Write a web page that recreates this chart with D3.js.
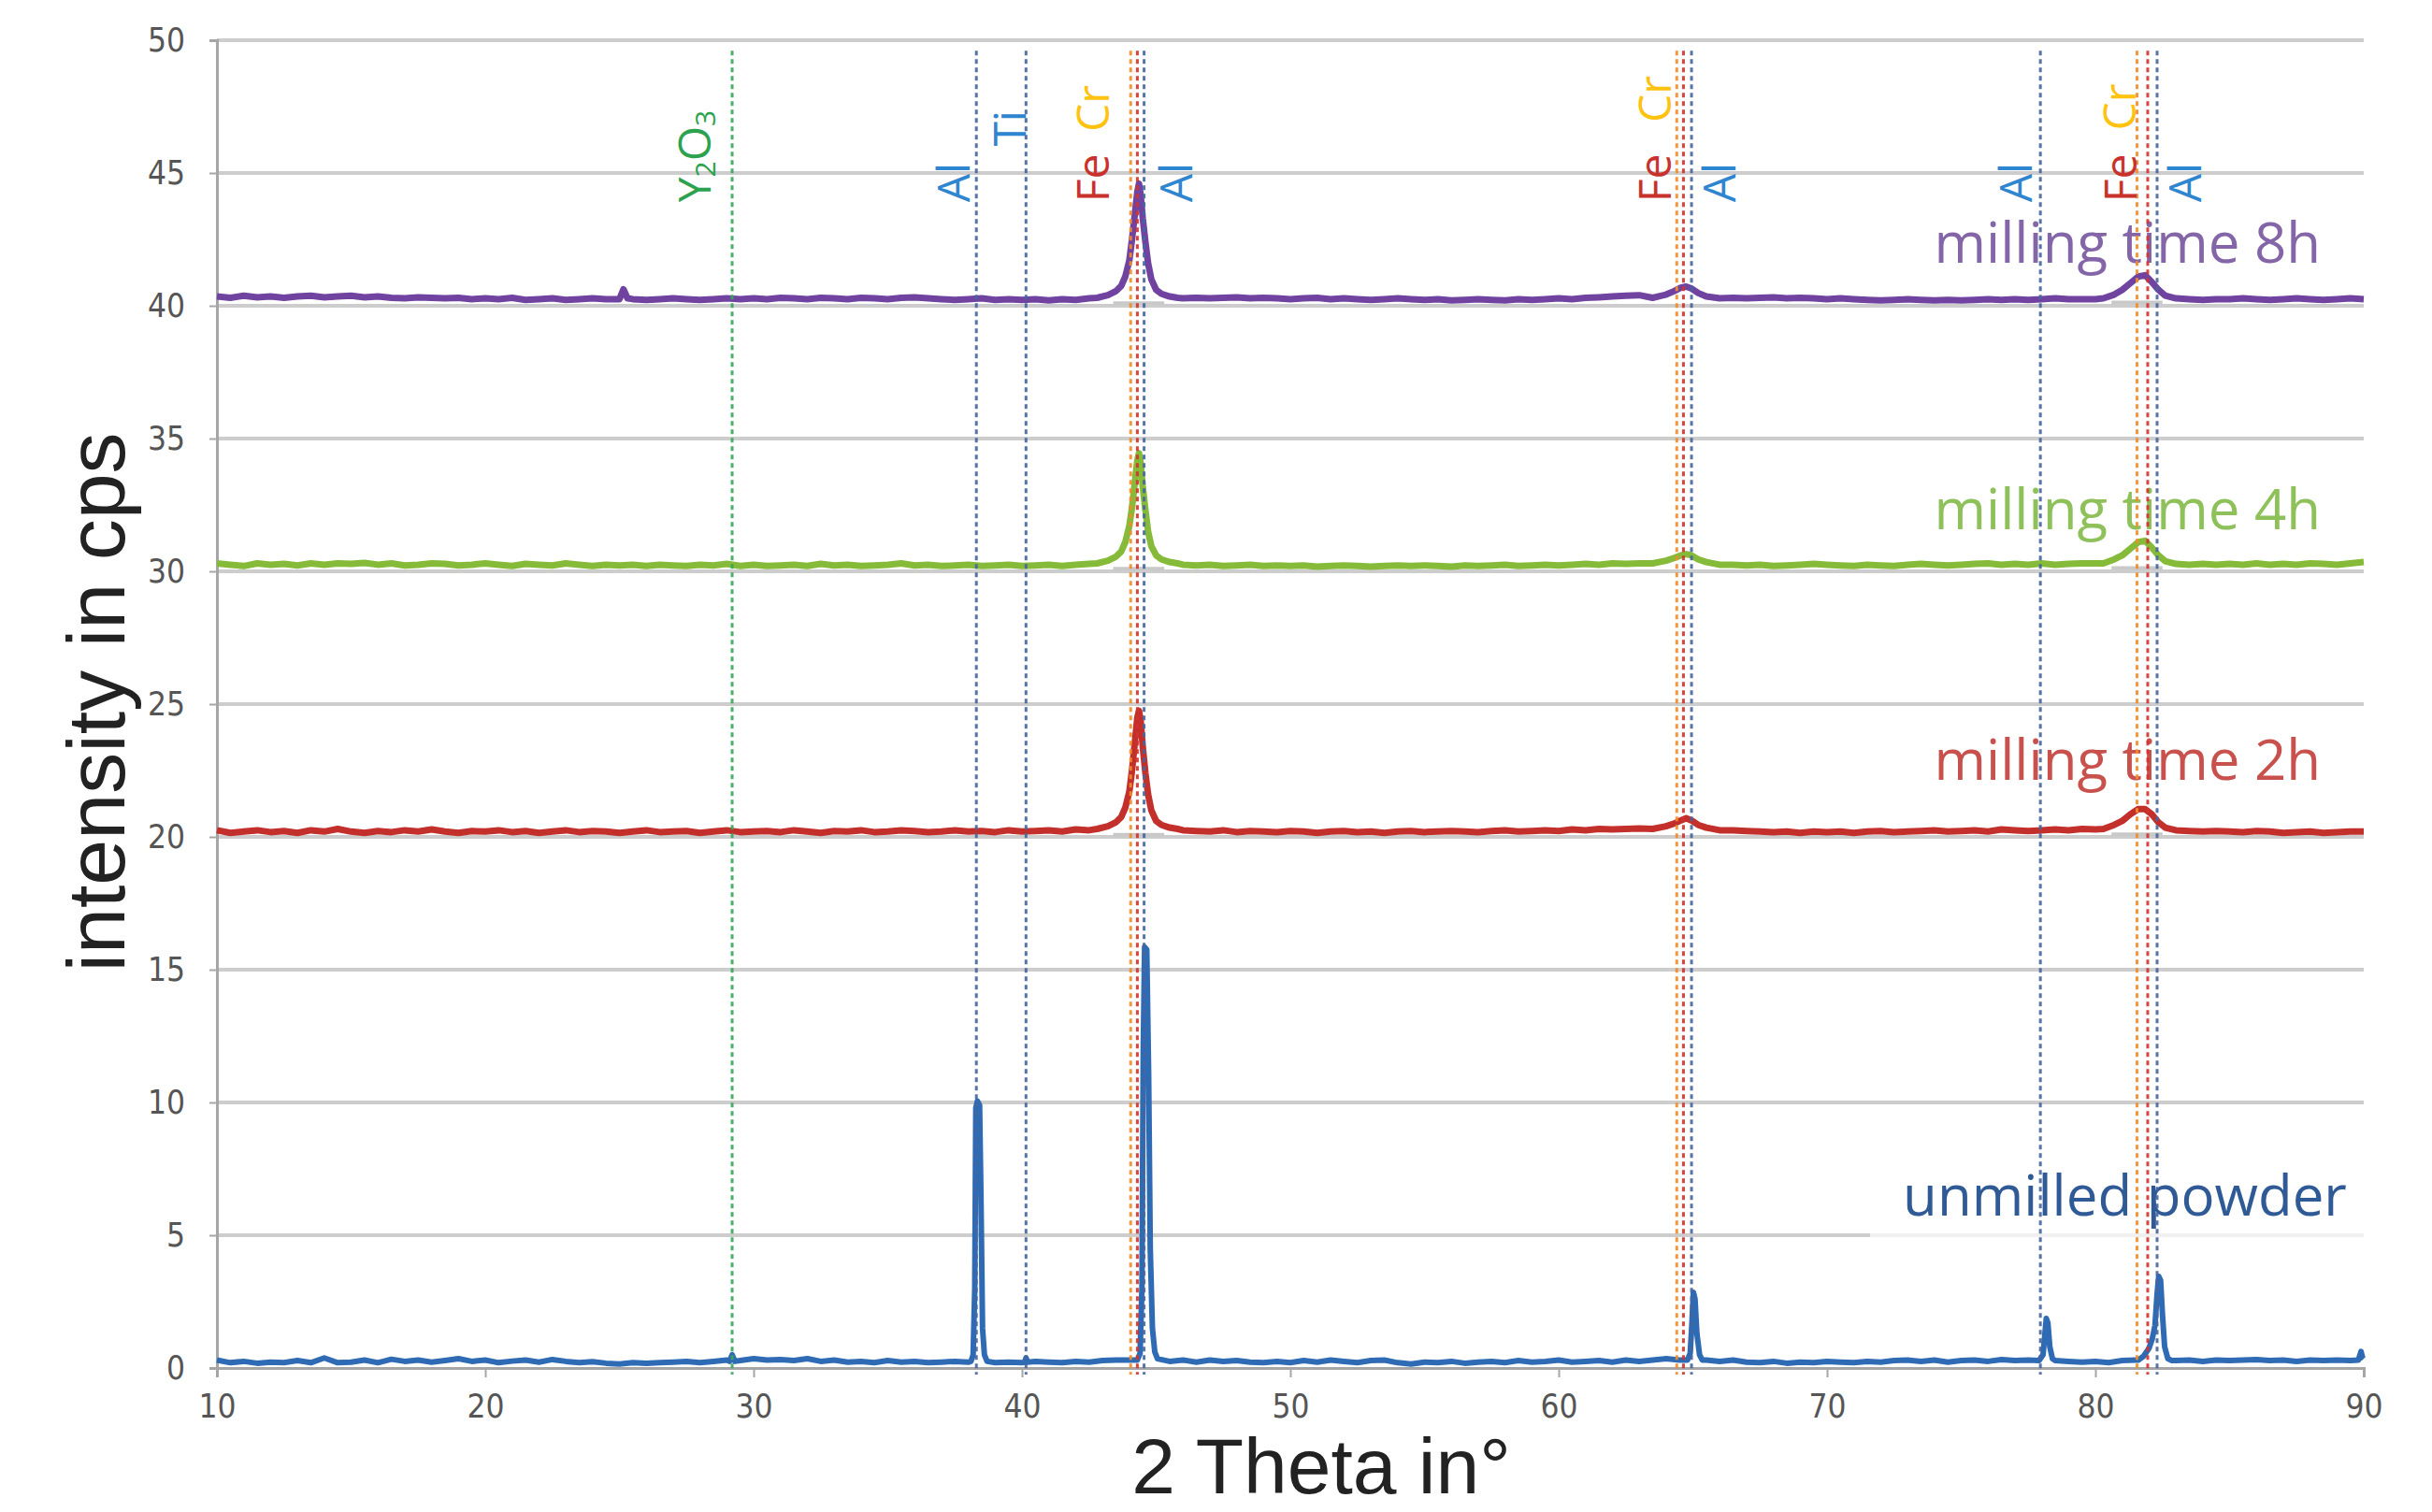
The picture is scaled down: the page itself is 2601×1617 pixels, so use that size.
<!DOCTYPE html>
<html>
<head>
<meta charset="utf-8">
<script src="https://cdn.jsdelivr.net/npm/d3@7"></script>
<style>
  html, body { margin: 0; padding: 0; background: #fff; }
  svg { display: block; }
</style>
</head>
<body>
<svg id="chart" width="2601" height="1617"></svg>
<script>
// ---------------- DATA ----------------
const xTicks = [10, 20, 30, 40, 50, 60, 70, 80, 90];
const yTicks = [0, 5, 10, 15, 20, 25, 30, 35, 40, 45, 50];

// scan positions (2θ, 0.5° step) for the baseline readings below
const thetaGrid = d3.range(0, 161).map(i => 10 + i * 0.5);

// baseline readings, 10° .. 90°, step 0.5°
const unmilledGrid = [
  0.30,0.20,0.25,0.18,0.22,0.20,0.28,0.20,0.38,0.20,
  0.22,0.30,0.20,0.33,0.25,0.30,0.22,0.28,0.35,0.25,
  0.30,0.20,0.26,0.30,0.22,0.32,0.25,0.20,0.24,0.18,
  0.15,0.20,0.18,0.20,0.22,0.25,0.20,0.25,0.30,0.28,
  0.35,0.30,0.32,0.28,0.35,0.25,0.30,0.22,0.25,0.20,
  0.28,0.22,0.25,0.20,0.22,0.25,0.22,0.25,0.20,0.22,
  0.20,0.25,0.22,0.20,0.25,0.22,0.28,0.30,0.30,0.30,
  0.30,0.25,0.30,0.22,0.30,0.25,0.28,0.22,0.20,0.25,
  0.20,0.28,0.22,0.30,0.25,0.20,0.28,0.30,0.20,0.15,
  0.22,0.20,0.25,0.18,0.22,0.25,0.20,0.28,0.22,0.25,
  0.30,0.22,0.25,0.28,0.22,0.30,0.25,0.30,0.35,0.30,
  0.30,0.30,0.25,0.30,0.22,0.20,0.25,0.18,0.22,0.20,
  0.25,0.22,0.20,0.25,0.22,0.28,0.30,0.25,0.30,0.22,
  0.28,0.30,0.25,0.32,0.28,0.30,0.28,0.30,0.25,0.22,
  0.25,0.20,0.28,0.30,0.30,0.28,0.28,0.30,0.25,0.30,
  0.28,0.30,0.32,0.28,0.30,0.25,0.30,0.28,0.30,0.28,
  0.35
];
const unmilledPeaks = [
  [[29.1,0.25],[29.2,0.5],[29.3,0.25]],
  [[38.1,0.25],[38.18,0.5],[38.24,3],[38.28,9.8],[38.34,10.05],[38.42,9.9],[38.47,6.5],[38.53,1.5],[38.6,0.5],[38.7,0.25]],
  [[40.1,0.22],[40.15,0.38],[40.2,0.22]],
  [[44.3,0.3],[44.4,0.55],[44.47,3],[44.52,12],[44.57,15.85],[44.65,15.75],[44.72,11],[44.78,4.5],[44.86,1.5],[44.95,0.6],[45.05,0.35]],
  [[64.8,0.3],[64.9,0.55],[64.96,1.6],[65.02,2.85],[65.08,2.6],[65.15,1.3],[65.25,0.5],[65.35,0.3]],
  [[77.9,0.28],[78.05,0.5],[78.12,1.3],[78.17,1.87],[78.23,1.7],[78.3,0.8],[78.4,0.35],[78.5,0.28]],
  [[81.6,0.3],[81.8,0.45],[82.0,0.75],[82.12,1.1],[82.22,1.6],[82.3,2.8],[82.36,3.45],[82.43,3.3],[82.5,2.0],[82.58,0.8],[82.7,0.35],[82.85,0.28]],
  [[89.8,0.3],[89.9,0.62],[89.95,0.4]]
];

const milled2hGrid = [
  20.25,20.15,20.2,20.25,20.18,20.22,20.15,20.25,20.2,20.3,
  20.2,20.15,20.22,20.18,20.25,20.2,20.28,20.2,20.15,20.22,
  20.2,20.25,20.18,20.22,20.15,20.2,20.25,20.18,20.22,20.2,
  20.15,20.2,20.25,20.18,20.2,20.22,20.15,20.2,20.25,20.18,
  20.2,20.22,20.18,20.25,20.2,20.15,20.22,20.2,20.25,20.18,
  20.2,20.25,20.22,20.18,20.2,20.25,20.2,20.22,20.18,20.25,
  20.2,20.22,20.25,20.2,20.28,20.25,20.3,20.3,20.35,20.35,
  20.35,20.3,20.25,20.22,20.2,20.25,20.18,20.22,20.2,20.18,
  20.22,20.2,20.15,20.2,20.22,20.18,20.2,20.15,20.2,20.22,
  20.18,20.2,20.22,20.2,20.18,20.22,20.25,20.2,20.22,20.25,
  20.22,20.28,20.25,20.3,20.28,20.3,20.32,20.35,20.4,20.5,
  20.45,20.35,20.3,20.25,20.22,20.2,20.18,20.2,20.15,20.2,
  20.18,20.2,20.15,20.2,20.22,20.18,20.2,20.22,20.25,20.2,
  20.22,20.25,20.2,20.28,20.25,20.22,20.25,20.28,20.25,20.3,
  20.28,20.35,20.5,20.8,21.0,20.9,20.5,20.22,20.2,20.22,
  20.2,20.18,20.22,20.2,20.15,20.18,20.2,20.15,20.18,20.2,
  20.2
];
const milled2hPeaks = [
  [[42.8,20.3],[43.2,20.4],[43.5,20.55],[43.7,20.75],[43.85,21.1],[44.0,21.7],[44.1,22.5],[44.2,23.5],[44.3,24.5],[44.36,24.75],[44.42,24.4],[44.5,23.4],[44.6,22.4],[44.7,21.6],[44.82,21.0],[45.0,20.6],[45.2,20.45],[45.5,20.35],[45.8,20.3]],
  [[63.5,20.3],[64.0,20.4],[64.3,20.5],[64.55,20.62],[64.75,20.7],[64.95,20.62],[65.2,20.45],[65.5,20.35],[66.0,20.25]],
  [[80.3,20.3],[80.7,20.45],[81.0,20.6],[81.3,20.85],[81.6,21.05],[81.85,21.05],[82.1,20.85],[82.35,20.55],[82.6,20.35],[83.0,20.25]]
];

const milled4hGrid = [
  30.3,30.25,30.2,30.3,30.25,30.28,30.22,30.3,30.25,30.3,
  30.28,30.32,30.25,30.3,30.22,30.25,30.3,30.28,30.22,30.25,
  30.3,30.25,30.2,30.28,30.25,30.22,30.3,30.25,30.2,30.25,
  30.22,30.25,30.2,30.25,30.22,30.2,30.25,30.22,30.28,30.2,
  30.25,30.2,30.22,30.25,30.2,30.28,30.22,30.25,30.2,30.22,
  30.25,30.3,30.22,30.25,30.2,30.22,30.25,30.2,30.22,30.25,
  30.2,30.22,30.25,30.2,30.25,30.28,30.3,30.3,30.35,30.4,
  30.35,30.3,30.25,30.22,30.25,30.2,30.22,30.25,30.2,30.22,
  30.2,30.22,30.18,30.2,30.22,30.2,30.18,30.2,30.22,30.2,
  30.22,30.2,30.18,30.22,30.2,30.22,30.25,30.2,30.22,30.25,
  30.22,30.25,30.28,30.25,30.3,30.28,30.3,30.35,30.4,30.5,
  30.45,30.35,30.3,30.25,30.22,30.25,30.2,30.22,30.25,30.28,
  30.25,30.22,30.2,30.25,30.22,30.2,30.25,30.28,30.25,30.22,
  30.25,30.28,30.3,30.25,30.28,30.25,30.3,30.25,30.28,30.3,
  30.3,30.4,30.5,30.8,31.0,30.9,30.5,30.25,30.28,30.25,
  30.28,30.25,30.3,30.25,30.28,30.25,30.3,30.28,30.25,30.3,
  30.35
];
const milled4hPeaks = [
  [[42.8,30.3],[43.2,30.4],[43.5,30.55],[43.7,30.75],[43.85,31.1],[44.0,31.7],[44.1,32.4],[44.2,33.3],[44.3,34.2],[44.36,34.45],[44.42,34.1],[44.5,33.2],[44.6,32.3],[44.7,31.5],[44.82,30.95],[45.0,30.6],[45.2,30.45],[45.5,30.35],[45.8,30.3]],
  [[63.5,30.3],[64.0,30.4],[64.3,30.5],[64.55,30.6],[64.75,30.65],[64.95,30.6],[65.2,30.45],[65.5,30.35],[66.0,30.25]],
  [[80.3,30.3],[80.7,30.45],[81.0,30.6],[81.3,30.85],[81.6,31.1],[81.85,31.15],[82.1,30.9],[82.35,30.6],[82.6,30.38],[83.0,30.28]]
];

const milled8hGrid = [
  40.35,40.3,40.38,40.32,40.35,40.3,40.35,40.38,40.32,40.35,
  40.38,40.32,40.35,40.3,40.28,40.32,40.3,40.28,40.3,40.25,
  40.28,40.25,40.3,40.22,40.25,40.28,40.22,40.25,40.28,40.25,
  40.3,40.25,40.22,40.25,40.28,40.25,40.22,40.25,40.28,40.25,
  40.28,40.25,40.3,40.28,40.25,40.3,40.28,40.25,40.3,40.28,
  40.25,40.3,40.32,40.28,40.25,40.22,40.25,40.28,40.22,40.25,
  40.22,40.25,40.2,40.25,40.22,40.28,40.3,40.3,40.35,40.4,
  40.35,40.3,40.28,40.3,40.28,40.3,40.32,40.28,40.3,40.28,
  40.25,40.28,40.3,40.25,40.28,40.25,40.22,40.25,40.28,40.25,
  40.22,40.25,40.2,40.22,40.25,40.22,40.2,40.25,40.22,40.25,
  40.28,40.25,40.3,40.32,40.35,40.38,40.4,40.45,40.5,40.6,
  40.55,40.4,40.35,40.3,40.28,40.3,40.32,40.28,40.3,40.28,
  40.25,40.28,40.25,40.22,40.2,40.22,40.25,40.22,40.2,40.22,
  40.2,40.22,40.25,40.22,40.25,40.22,40.25,40.28,40.25,40.25,
  40.25,40.35,40.5,40.8,41.0,40.9,40.5,40.25,40.22,40.25,
  40.25,40.28,40.25,40.22,40.25,40.28,40.25,40.22,40.25,40.28,
  40.25
];
const milled8hPeaks = [
  [[25.0,40.25],[25.15,40.62],[25.3,40.28]],
  [[42.8,40.3],[43.2,40.4],[43.5,40.55],[43.7,40.75],[43.85,41.1],[44.0,41.7],[44.1,42.5],[44.2,43.4],[44.3,44.3],[44.36,44.6],[44.42,44.2],[44.5,43.3],[44.6,42.4],[44.7,41.6],[44.82,41.0],[45.0,40.6],[45.2,40.45],[45.5,40.35],[45.8,40.3]],
  [[63.5,40.3],[64.0,40.42],[64.3,40.55],[64.55,40.68],[64.75,40.72],[64.95,40.65],[65.2,40.48],[65.5,40.35],[66.0,40.28]],
  [[80.3,40.28],[80.7,40.42],[81.0,40.6],[81.3,40.85],[81.6,41.1],[81.85,41.15],[82.1,40.9],[82.35,40.6],[82.6,40.38],[83.0,40.28]]
];

// fitted background segments under the milled peaks: [from, to, level]
const backgroundSegments = [
  [43.4,45.3,20.08],[80.6,82.5,20.1],
  [43.4,45.3,30.1],[80.6,82.5,30.12],
  [43.4,45.3,40.1],[80.6,82.5,40.12]
];

const seriesNames  = ["unmilled powder", "milling time 2h", "milling time 4h", "milling time 8h"];
const seriesColors = ["#2f6bb5", "#c3302c", "#86bb3a", "#7043a1"];
const labelColors  = ["#2f5a96", "#c9514d", "#8fc15a", "#8466a8"];
const labelTheta   = [89.37, 88.4, 88.4, 88.4];
const labelLevel   = [5.74, 22.16, 31.57, 41.61];

// reference reflections (2θ) and phase of each
const refTheta = [29.2, 38.3, 40.15, 44.05, 44.3, 44.55, 64.4, 64.65, 64.95, 77.95, 81.55, 81.95, 82.3];
const refPhase = ["Y2O3","Al","Ti","Cr","Fe","Al","Cr","Fe","Al","Al","Cr","Fe","Al"];
const phaseLineColor = {Y2O3:"#39a85a", Al:"#46659e", Ti:"#46659e", Fe:"#d2332b", Cr:"#f28c28"};
const phaseTextColor = {Y2O3:"#2ca24f", Al:"#2f86d0", Ti:"#2f86d0", Fe:"#c8312c", Cr:"#ffc20e"};

// phase labels: text, 2θ position, intensity level of text start
const phaseLabelText  = ["Y2O3","Al","Ti","Fe","Cr","Al","Fe","Cr","Al","Al","Fe","Cr","Al"];
const phaseLabelTheta = [27.72, 37.39, 39.5, 42.6, 42.6, 45.7, 63.55, 63.55, 65.95, 76.97, 80.9, 80.85, 83.3];
const phaseLabelLevel = [43.9, 43.9, 46.0, 43.9, 46.55, 43.9, 43.9, 46.9, 43.9, 43.9, 43.9, 46.6, 43.9];

// ---------------- CHART ----------------
const svg = d3.select("#chart");
const x = d3.scaleLinear().domain([10, 90]).range([232, 2528]);
const y = d3.scaleLinear().domain([0, 50]).range([1463, 43]);

function buildSeries(grid, peaks) {
  const pts = [];
  grid.forEach((v, i) => {
    const t = thetaGrid[i];
    if (!peaks.some(g => t >= g[0][0] && t <= g[g.length - 1][0])) pts.push([t, v]);
  });
  peaks.forEach(g => g.forEach(p => pts.push(p)));
  pts.sort((a, b) => a[0] - b[0]);
  return pts;
}
const series = [
  buildSeries(unmilledGrid, unmilledPeaks),
  buildSeries(milled2hGrid, milled2hPeaks),
  buildSeries(milled4hGrid, milled4hPeaks),
  buildSeries(milled8hGrid, milled8hPeaks)
];

// gridlines
svg.append("g").selectAll("line").data(yTicks.filter(v => v > 0)).join("line")
  .attr("x1", x(10)).attr("x2", x(90))
  .attr("y1", d => y(d)).attr("y2", d => y(d))
  .attr("stroke", "#cdcdcd").attr("stroke-width", 4);

// axes
const yAxis = svg.append("g").attr("transform", `translate(${x(10)},0)`)
  .call(d3.axisLeft(y).tickValues(yTicks).tickSize(8).tickPadding(26).tickFormat(d3.format("d")));
const xAxis = svg.append("g").attr("transform", `translate(0,${y(0)})`)
  .call(d3.axisBottom(x).tickValues(xTicks).tickSize(10).tickPadding(18).tickFormat(d3.format("d")));
[yAxis, xAxis].forEach(a => {
  a.select(".domain").attr("stroke", "#a6a6a6").attr("stroke-width", 3);
  a.selectAll(".tick line").attr("stroke", "#a6a6a6").attr("stroke-width", 2);
  a.selectAll(".tick text")
    .attr("fill", "#555")
    .style("font-family", "'Liberation Sans Narrow','DejaVu Sans Condensed',sans-serif")
    .style("font-size", "35px");
});

// axis titles
svg.append("text")
  .attr("x", 1413).attr("y", 1597)
  .attr("text-anchor", "middle")
  .style("font-family", "'Liberation Sans', Arial, sans-serif")
  .style("font-size", "84px").attr("fill", "#222")
  .text("2 Theta in°");
svg.append("text")
  .attr("transform", "translate(133,751) rotate(-90)")
  .attr("text-anchor", "middle")
  .style("font-family", "'Liberation Sans', Arial, sans-serif")
  .style("font-size", "88px").attr("fill", "#222")
  .text("intensity in cps");

// white box behind the "unmilled powder" label
svg.append("rect")
  .attr("x", x(71.6)).attr("y", y(8.1))
  .attr("width", x(90) - x(71.6) + 4).attr("height", y(4.85) - y(8.1))
  .attr("fill", "#fff").attr("opacity", 0.7);

// series labels
svg.append("g").selectAll("text").data(seriesNames).join("text")
  .attr("x", (d, i) => x(labelTheta[i]))
  .attr("y", (d, i) => y(labelLevel[i]))
  .attr("text-anchor", "end")
  .attr("fill", (d, i) => labelColors[i])
  .style("font-family", "'Open Sans', 'Noto Sans', sans-serif")
  .style("font-size", "60px")
  .text(d => d);

// background segments
svg.append("g").selectAll("line").data(backgroundSegments).join("line")
  .attr("x1", d => x(d[0])).attr("x2", d => x(d[1]))
  .attr("y1", d => y(d[2])).attr("y2", d => y(d[2]))
  .attr("stroke", "#c9c9c9").attr("stroke-width", 4);

// series lines
const line = d3.line().x(d => x(d[0])).y(d => y(d[1]));
svg.append("g").selectAll("path").data(series).join("path")
  .attr("d", line)
  .attr("fill", "none")
  .attr("stroke", (d, i) => seriesColors[i])
  .attr("stroke-width", (d, i) => i === 0 ? 6 : 7)
  .attr("stroke-linejoin", "round");

// reference reflection lines
svg.append("g").selectAll("line").data(refTheta).join("line")
  .attr("x1", d => x(d)).attr("x2", d => x(d))
  .attr("y1", y(49.6)).attr("y2", y(-0.25))
  .attr("stroke", (d, i) => phaseLineColor[refPhase[i]])
  .attr("stroke-width", 3)
  .attr("stroke-dasharray", "5,4")
  .attr("opacity", 0.9);

// phase labels (rotated)
const pl = svg.append("g").selectAll("text").data(phaseLabelText).join("text")
  .attr("transform", (d, i) => `translate(${x(phaseLabelTheta[i])},${y(phaseLabelLevel[i])}) rotate(-90)`)
  .attr("text-anchor", "start")
  .attr("dominant-baseline", "central")
  .attr("fill", d => phaseTextColor[d])
  .style("font-family", "'Open Sans', 'Noto Sans', sans-serif")
  .style("font-size", "48px");
pl.each(function(d) {
  const t = d3.select(this);
  if (d === "Y2O3") {
    t.append("tspan").text("Y");
    t.append("tspan").text("2").attr("font-size", "30px").attr("dy", "12");
    t.append("tspan").text("O").attr("dy", "-12");
    t.append("tspan").text("3").attr("font-size", "30px").attr("dy", "12");
  } else {
    t.text(d);
  }
});
</script>
</body>
</html>
